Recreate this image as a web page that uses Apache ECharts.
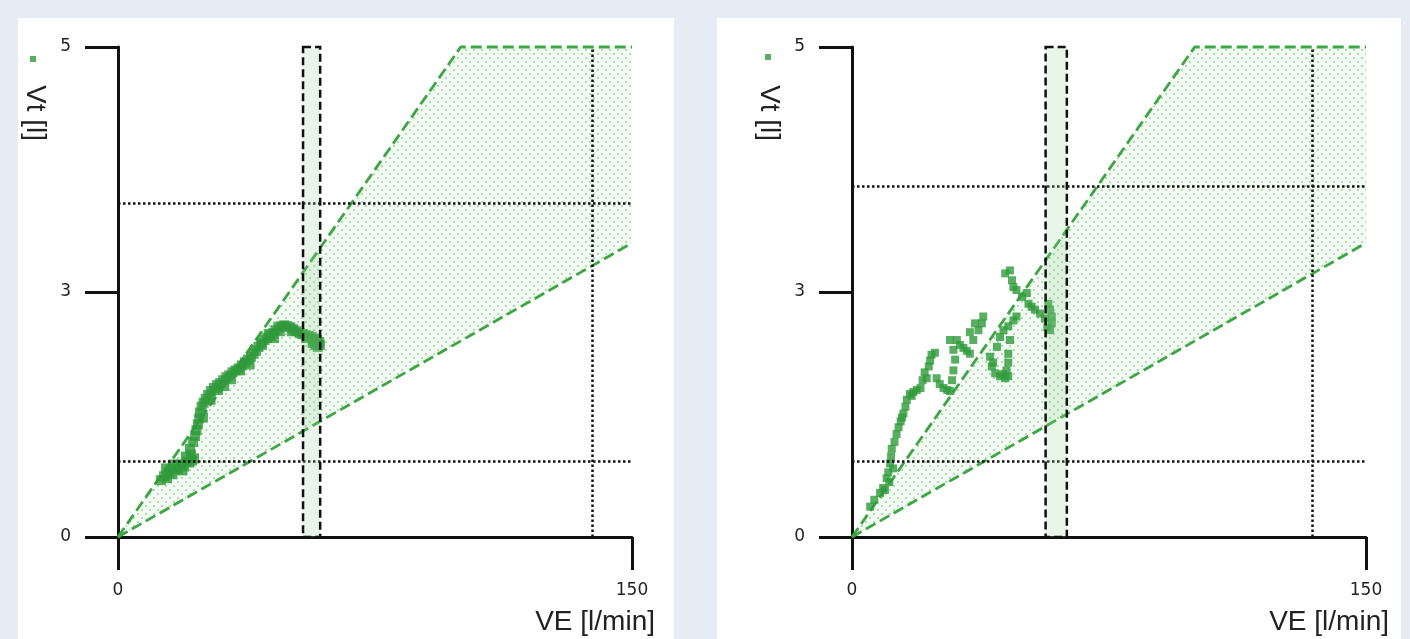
<!DOCTYPE html>
<html>
<head>
<meta charset="utf-8">
<script src="https://cdn.jsdelivr.net/npm/echarts@6/dist/echarts.min.js"></script>
<style>html,body{margin:0;padding:0;background:#e7ebf4;}#c{width:1410px;height:639px;}</style>
</head>
<body>
<div id="c"></div>
<script>
// ---- data ----
const xTicks = [0, 150];
const yTicks = [0, 2.5, 5];
// ventilatory boundary lines (VE, Vt)
const upperVE = [0, 100, 150];
const upperVt = [0, 5, 5];
const lowerVE = [0, 150];
const lowerVt = [0, 3];
// shaded wedge between boundaries
const wedgeVE = [0, 100, 150, 150];
const wedgeVt = [0, 5, 5, 3];
// left panel
const leftZone = [54, 59];
const leftHLines = [3.41, 0.77];
const leftVLines = [138.3];
const leftVE = [12.5,13.4,14.3,15.0,15.9,16.8,17.5,18.4,19.3,20.1,20.8,21.3,21.0,21.9,22.5,22.9,23.3,23.7,23.9,24.4,25.0,25.6,26.3,27.1,28.0,28.9,29.8,30.7,31.6,32.5,33.4,34.3,35.2,36.1,37.0,37.9,38.8,39.6,40.3,41.0,41.8,42.7,43.6,44.5,45.3,46.0,46.8,47.6,48.5,49.4,50.3,51.2,52.1,53.0,53.9,54.8,55.7,56.6,57.4,58.1,58.7,58.9,58.3,57.6,56.8,18.8,22.2,27.0,33.0,42.0,45.5,14.0,16.2,19.8,21.6,24.8,29.2,31.0,35.6,38.4,44.0,47.2,50.8,55.0,57.0];
const leftVt = [0.58,0.62,0.60,0.66,0.64,0.70,0.69,0.74,0.72,0.77,0.76,0.84,0.90,0.97,1.03,1.09,1.15,1.21,1.27,1.33,1.37,1.41,1.45,1.49,1.52,1.55,1.57,1.60,1.63,1.65,1.68,1.70,1.72,1.75,1.78,1.81,1.84,1.87,1.90,1.94,1.98,2.01,2.03,2.05,2.08,2.11,2.14,2.15,2.16,2.15,2.14,2.12,2.10,2.08,2.07,2.06,2.05,2.04,2.02,2.01,1.99,1.96,1.94,1.96,1.98,0.68,0.80,1.40,1.61,1.96,2.03,0.70,0.74,0.82,0.78,1.22,1.50,1.54,1.70,1.76,2.07,2.10,2.10,2.03,2.00];
// right panel
const rightZone = [56.5, 62.7];
const rightHLines = [3.58, 0.77];
const rightVLines = [134.2];
const rightVE = [5.3,6.5,8.2,9.1,10.1,10.6,11.1,11.4,11.6,12.4,13.0,13.6,14.2,15.0,15.6,16.0,16.9,17.9,18.9,20.0,20.6,21.2,22.4,22.8,23.2,24.2,24.7,25.6,26.7,27.8,28.6,29.2,29.6,30.1,29.6,28.6,30.6,31.5,32.5,33.5,34.4,34.4,35.4,35.9,36.9,37.9,38.3,40.3,40.8,41.8,43.2,44.7,45.6,45.1,45.6,45.6,46.1,42.3,43.2,44.2,45.6,47.1,48.0,44.7,46.1,46.7,47.1,48.0,49.6,51.0,51.5,52.4,53.4,54.9,56.3,57.3,57.8,58.3,58.3,57.8,57.0,9.6,10.9,12.0,14.6,17.4,21.8,41.2,44.0];
const rightVt = [0.31,0.38,0.45,0.50,0.60,0.66,0.75,0.82,0.90,0.97,1.05,1.12,1.18,1.26,1.33,1.40,1.46,1.48,1.50,1.52,1.60,1.68,1.74,1.80,1.86,1.88,1.62,1.56,1.52,1.50,1.49,1.60,1.70,1.81,1.91,2.01,2.01,1.96,1.93,1.90,1.87,2.09,2.01,2.18,2.11,2.18,2.25,1.84,1.74,1.67,1.64,1.62,1.64,1.70,1.78,1.87,2.01,1.94,2.04,2.11,2.15,2.21,2.25,2.69,2.72,2.62,2.55,2.52,2.45,2.49,2.38,2.35,2.32,2.28,2.23,2.38,2.32,2.25,2.18,2.11,2.14,0.48,0.56,0.70,1.22,1.44,1.62,1.78,1.66];

// ---- styling helpers ----
const FONT = "'Liberation Sans', Arial, sans-serif";
const TICKFONT = "'DejaVu Sans', 'Liberation Sans', sans-serif";
const GREEN = '#2f9a3b';
const LGREEN = '#3da543';

function makePattern() {
  const c = document.createElement('canvas');
  c.width = 8; c.height = 8;
  const g = c.getContext('2d');
  g.fillStyle = '#f3faf3'; g.fillRect(0, 0, 8, 8);
  g.fillStyle = '#b2dcb2';
  g.fillRect(1, 1, 2, 2);
  g.fillRect(5, 5, 2, 2);
  return { image: c, repeat: 'repeat' };
}
const pattern = makePattern();

const zip = (a, b) => a.map((v, i) => [v, b[i]]);

const grids = [
  { left: 118, top: 47, width: 514, height: 490 },
  { left: 852, top: 47, width: 514, height: 490 }
];

function xAxisCfg(i) {
  return {
    gridIndex: i, type: 'value', min: xTicks[0], max: xTicks[xTicks.length - 1],
    interval: xTicks[1] - xTicks[0],
    name: 'VE [l/min]', nameLocation: 'end', nameGap: 23,
    nameTextStyle: { fontFamily: FONT, fontSize: 28, color: '#222', align: 'right', verticalAlign: 'top', padding: [71, 0, 0, 0] },
    axisLine: { show: true, onZero: false, lineStyle: { color: '#111', width: 3 } },
    axisTick: { show: true, length: 33, lineStyle: { color: '#111', width: 3 } },
    axisLabel: { margin: 45, fontFamily: TICKFONT, fontSize: 17, color: '#222' },
    splitLine: { show: false }
  };
}
function yAxisCfg(i) {
  return {
    gridIndex: i, type: 'value', min: yTicks[0], max: yTicks[yTicks.length - 1],
    interval: yTicks[1] - yTicks[0],
    axisLine: { show: true, onZero: false, lineStyle: { color: '#111', width: 3 } },
    axisTick: { show: true, length: 33, lineStyle: { color: '#111', width: 3 } },
    axisLabel: { margin: 47, fontFamily: TICKFONT, fontSize: 17, color: '#222', formatter: v => String(Math.round(v)) },
    splitLine: { show: false }
  };
}

function panelSeries(i, name, ve, vt, zone, hLines, vLines) {
  return [
    {
      type: 'custom', xAxisIndex: i, yAxisIndex: i, z: 1, silent: true,
      data: zip(wedgeVE, wedgeVt),
      renderItem: function (params, api) {
        if (params.dataIndex !== 0) return;
        const pts = wedgeVE.map((v, k) => api.coord([v, wedgeVt[k]]));
        return { type: 'polygon', shape: { points: pts }, style: { fill: pattern } };
      }
    },
    {
      type: 'line', xAxisIndex: i, yAxisIndex: i, z: 2, data: [], silent: true,
      markLine: {
        silent: true, symbol: 'none', label: { show: false },
        lineStyle: { color: '#111', width: 2.5, type: [2.5, 2.5] },
        data: hLines.map(v => ({ yAxis: v })).concat(vLines.map(v => ({ xAxis: v })))
      }
    },
    {
      type: 'line', xAxisIndex: i, yAxisIndex: i, z: 3, clip: false, silent: true,
      showSymbol: false, data: zip(upperVE, upperVt),
      lineStyle: { color: LGREEN, width: 2.8, type: [11, 5] }
    },
    {
      type: 'line', xAxisIndex: i, yAxisIndex: i, z: 3, clip: false, silent: true,
      showSymbol: false, data: zip(lowerVE, lowerVt),
      lineStyle: { color: LGREEN, width: 2.8, type: [11, 5] }
    },
    {
      name: name, type: 'scatter', xAxisIndex: i, yAxisIndex: i, z: 4,
      symbol: 'rect', symbolSize: i === 0 ? 10 : 8,
      itemStyle: { color: GREEN },
      data: zip(ve, vt)
    },
    {
      type: 'custom', xAxisIndex: i, yAxisIndex: i, z: 5, silent: true,
      data: [zone],
      renderItem: function (params, api) {
        const p0 = api.coord([zone[0], yTicks[yTicks.length - 1]]);
        const p1 = api.coord([zone[1], yTicks[0]]);
        return {
          type: 'rect',
          shape: { x: p0[0], y: p0[1], width: p1[0] - p0[0], height: p1[1] - p0[1] },
          style: { fill: 'rgba(150,210,150,0.22)', stroke: '#111', lineWidth: 2.5, lineDash: [8, 4] }
        };
      }
    }
  ];
}

const chart = echarts.init(document.getElementById('c'), null, { renderer: 'canvas' });
chart.setOption({
  animation: false,
  backgroundColor: '#e7ebf4',
  graphic: [
    { type: 'rect', z: -100, shape: { x: 18, y: 18, width: 656, height: 640 }, style: { fill: '#ffffff' } },
    { type: 'rect', z: -100, shape: { x: 717, y: 18, width: 684, height: 640 }, style: { fill: '#ffffff' } },
    { type: 'text', z: 100, x: 35, y: 113, rotation: -Math.PI / 2,
      style: { text: 'Vt [l]', font: '28px ' + FONT, fill: '#222', align: 'center', verticalAlign: 'middle' } },
    { type: 'text', z: 100, x: 769, y: 113, rotation: -Math.PI / 2,
      style: { text: 'Vt [l]', font: '28px ' + FONT, fill: '#222', align: 'center', verticalAlign: 'middle' } }
  ],
  legend: [
    { data: ['Vt left'], left: 30, top: 56, icon: 'rect', itemWidth: 6, itemHeight: 6, formatter: () => '', itemGap: 0, padding: 0, selectedMode: false },
    { data: ['Vt right'], left: 765, top: 54, icon: 'rect', itemWidth: 6, itemHeight: 6, formatter: () => '', itemGap: 0, padding: 0, selectedMode: false }
  ],
  grid: grids,
  xAxis: [xAxisCfg(0), xAxisCfg(1)],
  yAxis: [yAxisCfg(0), yAxisCfg(1)],
  series: [].concat(
    panelSeries(0, 'Vt left', leftVE, leftVt, leftZone, leftHLines, leftVLines),
    panelSeries(1, 'Vt right', rightVE, rightVt, rightZone, rightHLines, rightVLines)
  )
});
</script>
</body>
</html>
